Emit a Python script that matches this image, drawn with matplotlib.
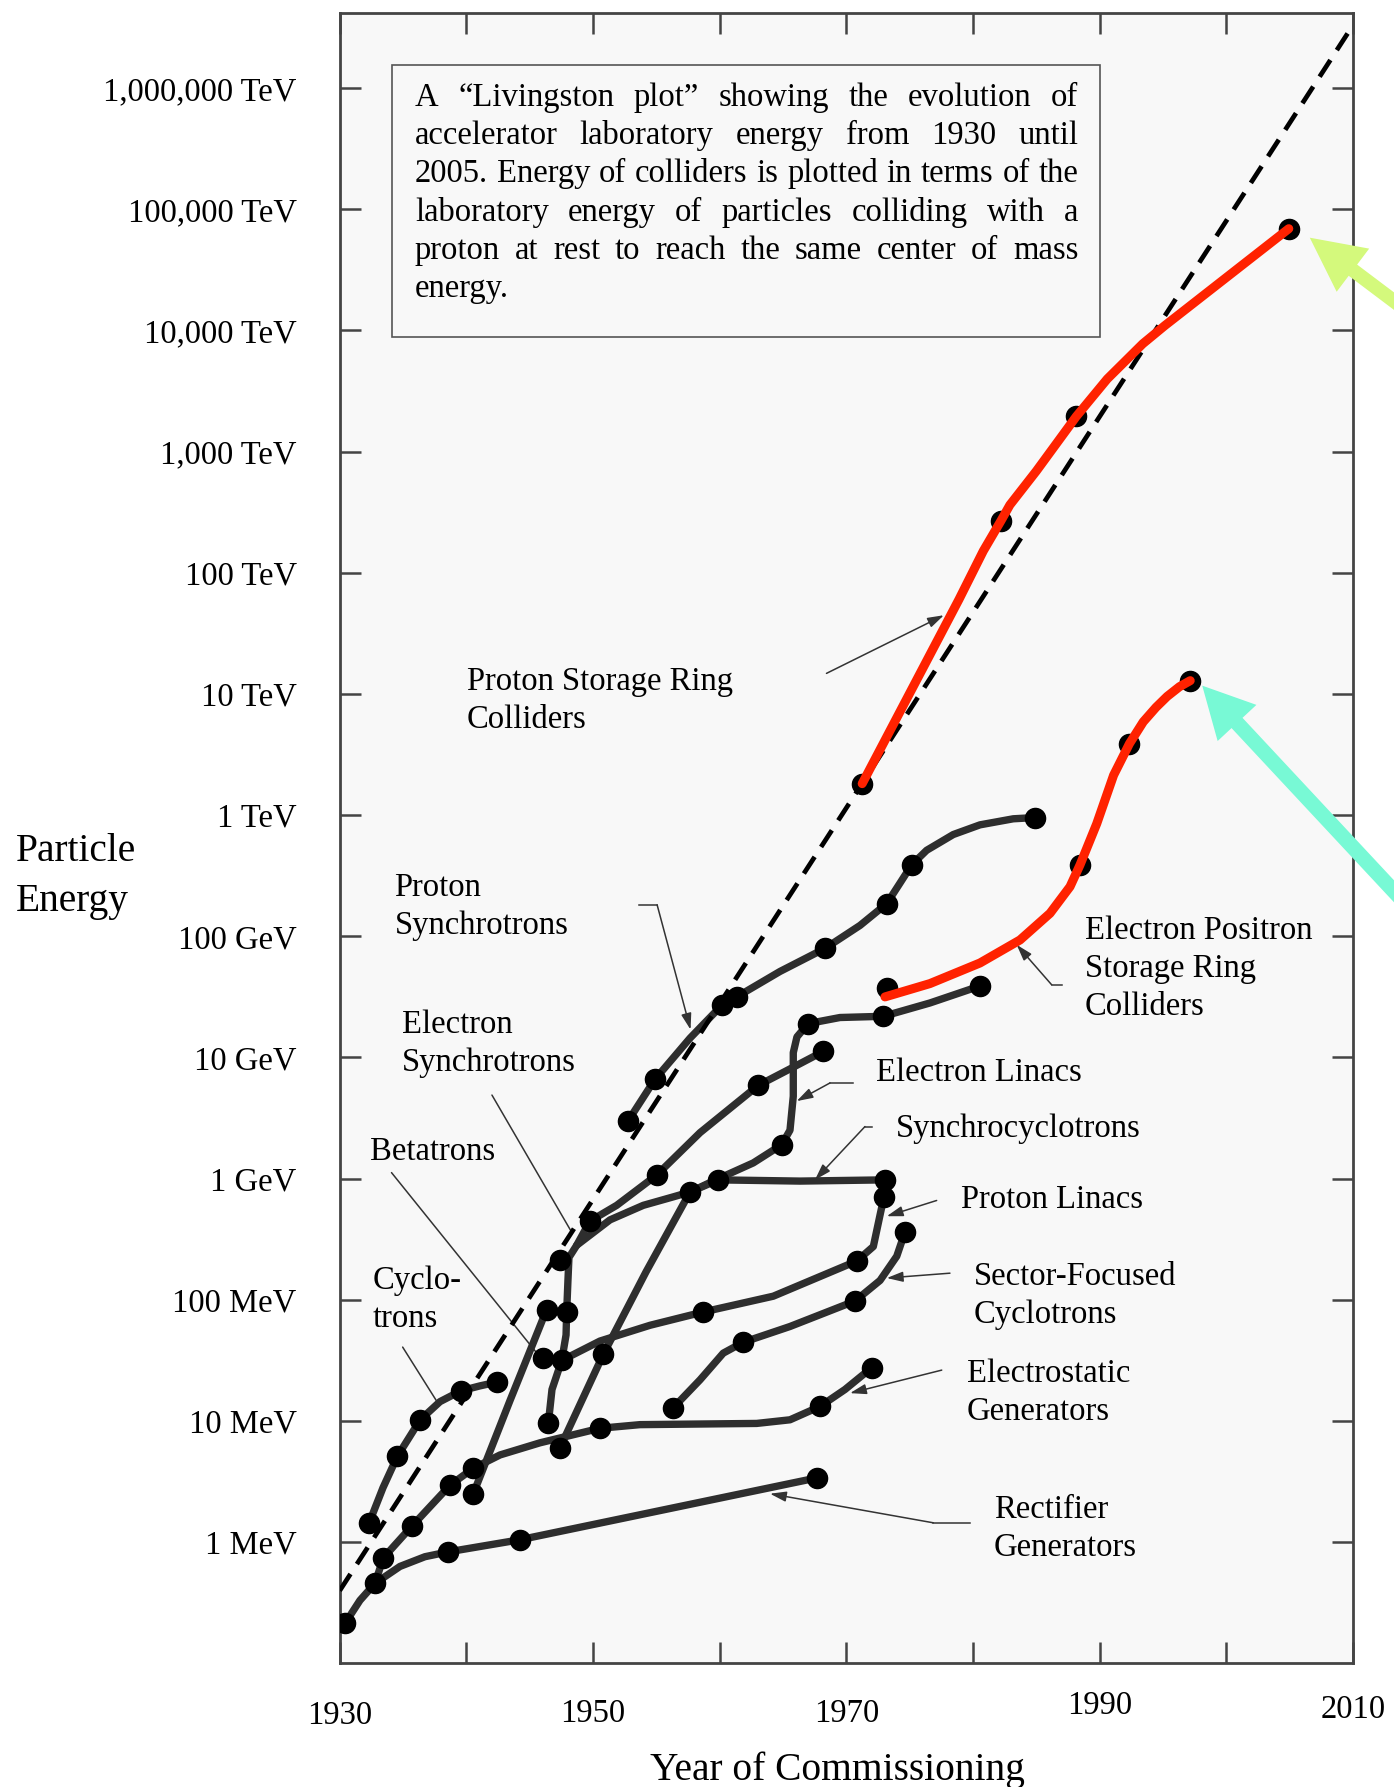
import numpy as np
import matplotlib
matplotlib.use("Agg")
import matplotlib.pyplot as plt
from matplotlib.patches import FancyArrow, Rectangle
from matplotlib.transforms import IdentityTransform

plt.rcParams['font.family'] = ['Liberation Serif', 'DejaVu Serif']

W, H = 1394, 1787

# each node: (year, log10 of energy in eV, dot drawn?)
rectifier = [(1930.42, 5.33, 1), (1931.60, 5.52, 0), (1932.79, 5.66, 1), (1934.76, 5.80, 0),
             (1936.73, 5.88, 0), (1938.57, 5.92, 1), (1944.23, 6.02, 1), (1967.66, 6.53, 1)]

electrostatic = [(1932.79, 5.66, 0), (1933.44, 5.87, 1), (1935.68, 6.13, 1), (1938.71, 6.47, 1),
                 (1940.55, 6.61, 1), (1942.66, 6.72, 0), (1945.81, 6.82, 0), (1948.18, 6.88, 0),
                 (1950.55, 6.94, 1), (1953.71, 6.97, 0), (1962.92, 6.98, 0), (1965.55, 7.01, 0),
                 (1967.92, 7.12, 1), (1969.89, 7.26, 0), (1972.00, 7.44, 1)]

cyclotrons = [(1932.33, 6.16, 1), (1933.42, 6.45, 0), (1934.56, 6.71, 1), (1936.36, 7.01, 1),
              (1937.92, 7.16, 0), (1939.59, 7.25, 1), (1941.08, 7.29, 0), (1942.38, 7.32, 1)]

betatrons = [(1940.55, 6.40, 1), (1943.45, 7.17, 0), (1946.34, 7.92, 1)]

e_synchrotrons = [(1946.47, 6.98, 1), (1946.76, 7.26, 0), (1947.53, 7.50, 1), (1947.87, 7.71, 0),
                  (1947.92, 7.90, 1), (1948.02, 8.16, 0), (1948.10, 8.35, 0), (1948.71, 8.45, 0),
                  (1949.76, 8.65, 1), (1951.87, 8.78, 0), (1955.03, 9.03, 1), (1958.45, 9.38, 0),
                  (1963.05, 9.77, 1), (1965.81, 9.92, 0), (1968.18, 10.05, 1)]

synchrocyclotrons = [(1948.71, 8.45, 0), (1951.34, 8.66, 0), (1953.97, 8.78, 0), (1956.34, 8.85, 0),
                     (1957.66, 8.89, 1), (1959.89, 8.99, 1), (1966.34, 8.98, 0), (1973.05, 8.99, 1)]

e_linacs = [(1947.39, 6.78, 1), (1950.81, 7.55, 1), (1954.18, 8.23, 0), (1957.66, 8.89, 0),
            (1959.89, 9.00, 0), (1962.65, 9.13, 0), (1964.90, 9.28, 1), (1965.55, 9.40, 0),
            (1965.81, 9.68, 0), (1965.81, 10.04, 0), (1966.10, 10.17, 0), (1966.99, 10.28, 1),
            (1969.50, 10.33, 0), (1972.92, 10.34, 1), (1976.60, 10.45, 0), (1980.55, 10.59, 1)]

p_linacs = [(1947.53, 7.50, 0), (1950.55, 7.66, 0), (1954.50, 7.79, 0), (1958.71, 7.90, 1),
            (1964.23, 8.03, 0), (1970.82, 8.32, 1), (1972.13, 8.44, 0), (1972.66, 8.70, 0),
            (1972.97, 8.85, 1)]

sector_cyclotrons = [(1956.34, 7.11, 1), (1958.45, 7.34, 0), (1960.28, 7.56, 0), (1961.86, 7.65, 1),
                     (1965.55, 7.78, 0), (1970.68, 7.99, 1), (1972.66, 8.16, 0), (1973.98, 8.36, 0),
                     (1974.63, 8.56, 1)]

p_synchrotrons = [(1952.79, 9.48, 1), (1954.89, 9.82, 1), (1957.66, 10.16, 0), (1960.16, 10.43, 1),
                  (1961.34, 10.50, 1), (1964.76, 10.71, 0), (1968.31, 10.90, 1), (1971.08, 11.09, 0),
                  (1973.19, 11.27, 1), (1974.24, 11.44, 0), (1975.16, 11.59, 1), (1976.34, 11.71, 0),
                  (1978.44, 11.84, 0), (1980.55, 11.92, 0), (1983.18, 11.97, 0), (1984.89, 11.98, 1)]

pp_colliders = [(1971.25, 12.26, 1), (1978.89, 13.78, 0), (1980.81, 14.18, 0), (1982.21, 14.43, 1),
                (1982.91, 14.56, 0), (1985.00, 14.84, 0), (1988.15, 15.29, 1), (1990.60, 15.60, 0),
                (1993.40, 15.89, 0), (1995.14, 16.04, 0), (2004.93, 16.84, 1)]

ee_colliders = [(1973.05, 10.50, 0), (1976.60, 10.61, 0), (1980.55, 10.78, 0), (1983.71, 10.97, 0),
                (1986.08, 11.19, 0), (1987.66, 11.41, 0), (1988.45, 11.59, 1), (1989.77, 11.93, 0),
                (1991.10, 12.33, 0), (1992.35, 12.59, 1), (1993.44, 12.77, 0), (1994.45, 12.89, 0),
                (1995.33, 12.98, 0), (1996.30, 13.06, 0), (1997.15, 13.11, 1)]

# dots sitting next to a curve rather than on it
loose_dots = [(1946.07, 7.52), (1947.39, 8.33), (1973.19, 10.57)]

# trend line
trend_yr = [1930, 2010]
trend_lg = [5.60, 18.52]

# label pointers (year, log10 E), last node is the tip; flag = arrowhead
pointers = [
    ([(1968.43, 13.17), (1977.70, 13.65)], 1),
    ([(1953.65, 11.26), (1955.06, 11.26), (1957.70, 10.23)], 1),
    ([(1942.02, 9.69), (1948.36, 8.55)], 0),
    ([(1934.09, 9.05), (1945.72, 7.54)], 0),
    ([(1934.97, 7.61), (1937.62, 7.17)], 0),
    ([(1987.00, 10.60), (1986.21, 10.60), (1983.45, 10.93)], 1),
    ([(1970.55, 9.79), (1968.71, 9.79), (1966.08, 9.64)], 1),
    ([(1972.00, 9.43), (1971.47, 9.43), (1967.52, 8.99)], 1),
    ([(1977.13, 8.82), (1973.19, 8.69)], 1),
    ([(1978.18, 8.22), (1973.19, 8.18)], 1),
    ([(1977.53, 7.42), (1970.29, 7.23)], 1),
    ([(1979.76, 6.16), (1976.86, 6.16), (1963.97, 6.40)], 1),
]

# label text, left year, log10 E of first line centre
labels = [
    ("Proton Storage Ring\nColliders", 1940.05, 13.10),
    ("Proton\nSynchrotrons", 1934.32, 11.40),
    ("Electron\nSynchrotrons", 1934.94, 10.27),
    ("Betatrons", 1932.42, 9.22),
    ("Cyclo-\ntrons", 1932.61, 8.16),
    ("Electron Positron\nStorage Ring\nColliders", 1988.84, 11.05),
    ("Electron Linacs", 1972.38, 9.87),
    ("Synchrocyclotrons", 1973.91, 9.41),
    ("Proton Linacs", 1979.04, 8.83),
    ("Sector-Focused\nCyclotrons", 1980.03, 8.19),
    ("Electrostatic\nGenerators", 1979.49, 7.39),
    ("Rectifier\nGenerators", 1981.65, 6.27),
]

x_ticks = list(range(1930, 2011, 10))
x_tick_text = ['1930', '', '1950', '', '1970', '', '1990', '', '2010']
x_tick_lift = [0, 0, 2, 0, 2, 0, 10, 0, 5]
y_tick_lg = list(range(6, 19))
y_tick_text = ['1 MeV', '10 MeV', '100 MeV', '1 GeV', '10 GeV', '100 GeV', '1 TeV', '10 TeV',
               '100 TeV', '1,000 TeV', '10,000 TeV', '100,000 TeV', '1,000,000 TeV']

note_lines = ["A \u201cLivingston plot\u201d showing the evolution of",
              "accelerator laboratory energy from 1930 until",
              "2005.  Energy of colliders is plotted in terms of the",
              "laboratory energy of particles colliding with a",
              "proton at rest to reach the same center of mass",
              "energy."]

FS = 23.5


def fx(px):
    return px / W


def fy(py):
    return 1 - py / H


fig = plt.figure(figsize=(W / 100, H / 100), dpi=100)
ax = fig.add_axes([fx(339.7), fy(1662.5), (1353 - 339.7) / W, (1662.5 - 13) / H])
ax.set_facecolor('#f8f8f8')
ax.set_yscale('log')
ax.set_xlim(1930, 2010)
ax.set_ylim(10 ** 5.007, 10 ** 18.62)

ax.set_xticks(x_ticks)
ax.set_xticklabels(x_tick_text)
ax.set_yticks([10.0 ** k for k in y_tick_lg])
ax.set_yticklabels(y_tick_text)
ax.yaxis.set_minor_locator(matplotlib.ticker.NullLocator())
ax.tick_params(direction='in', length=15, width=1.8, color='#444444', top=True, right=True,
               labelsize=FS)
ax.tick_params(axis='x', pad=27)
ax.tick_params(axis='y', pad=31)
for lab, lift in zip(ax.get_xticklabels(), x_tick_lift):
    lab.set_y(lift / (1662.5 - 13))
for s in ax.spines.values():
    s.set_linewidth(2)
    s.set_color('#444444')

ax.set_ylabel('Particle\nEnergy', rotation=0, fontsize=28.4, ha='left', va='center', linespacing=1.45)
ax.yaxis.set_label_coords((16 - 339.7) / 1013.3, (1662.5 - 876.5) / 1649.5)
ax.set_xlabel('Year of Commissioning', fontsize=28.4, va='baseline')
ax.xaxis.set_label_coords((837 - 339.7) / 1013.3, (1662.5 - 1780) / 1649.5)


def draw_curve(pts, color='#2e2e2e', lw=5.3, z=3, dot_z=4):
    yr = [p[0] for p in pts]
    en = [10 ** p[1] for p in pts]
    ax.plot(yr, en, color=color, lw=lw, solid_capstyle='round', solid_joinstyle='round', zorder=z)
    dots = [p for p in pts if p[2]]
    ax.plot([p[0] for p in dots], [10 ** p[1] for p in dots], 'o', ms=14.5, color='black',
            mec='black', zorder=dot_z)


for c in [rectifier, electrostatic, cyclotrons, betatrons, e_synchrotrons, synchrocyclotrons,
          e_linacs, p_linacs, sector_cyclotrons, p_synchrotrons]:
    draw_curve(c)
ax.plot([d[0] for d in loose_dots], [10 ** d[1] for d in loose_dots], 'o', ms=14.5,
        color='black', zorder=4)

for c in [pp_colliders, ee_colliders]:
    draw_curve(c, color='#ff2200', lw=6.5, z=6, dot_z=5)

ax.plot(trend_yr, [10 ** v for v in trend_lg], color='black', lw=3.4, dashes=(4.2, 2.5),
        zorder=4.5)

for path, head in pointers:
    yr = [p[0] for p in path]
    en = [10 ** p[1] for p in path]
    if len(path) > 2:
        ax.plot(yr[:-1], en[:-1], color='#333333', lw=1.1, zorder=2)
    style = '-|>,head_length=0.7,head_width=0.22' if head else '-'
    ax.annotate('', xy=(yr[-1], en[-1]), xytext=(yr[-2], en[-2]),
                arrowprops=dict(arrowstyle=style, color='#333333', lw=1.1,
                                shrinkA=0, shrinkB=0, mutation_scale=14), zorder=2)

for text, yr, lg in labels:
    for i, s in enumerate(text.split('\n')):
        ax.text(yr, 10 ** (lg - i * 0.316), s, fontsize=FS, ha='left', va='center', zorder=8)

# note box with justified lines
fig.add_artist(Rectangle((fx(392.1), fy(337.4)), (1099.9 - 392.1) / W, (337.4 - 65) / H,
                         transform=fig.transFigure, facecolor='#f8f8f8', edgecolor='#555555',
                         lw=1.2, zorder=2))
renderer = fig.canvas.get_renderer()
x_left, x_right = 414.9, 1078.3
for i, line in enumerate(note_lines):
    base = 106 + i * 38.2
    words = line.split()
    arts = [fig.text(fx(x_left), fy(base), w_, fontsize=FS, ha='left', va='baseline', zorder=3)
            for w_ in words]
    widths = [a.get_window_extent(renderer=renderer).width for a in arts]
    if i < len(note_lines) - 1 and len(words) > 1:
        gap = (x_right - x_left - sum(widths)) / (len(words) - 1)
    else:
        gap = 8
    x = x_left
    for a, w_ in zip(arts, widths):
        a.set_x(fx(x))
        x += w_ + gap

# pointing arrows at the newest colliders
lhc = ax.transData.transform((pp_colliders[-1][0], 10 ** pp_colliders[-1][1]))
lep = ax.transData.transform((ee_colliders[-1][0], 10 ** ee_colliders[-1][1]))
for base_pt, off, ang, wid, hw, hl, col in [
        (lhc, (21, -9), 37, 14, 54, 54, '#d4f97c'),
        (lep, (12, -5), 47, 15, 53, 51, '#78f9d5')]:
    tip = np.array(base_pt) + np.array(off)
    a = np.radians(ang)
    tail = tip + 300 * np.array([np.cos(a), -np.sin(a)])
    fig.add_artist(FancyArrow(tail[0], tail[1], tip[0] - tail[0], tip[1] - tail[1], width=wid,
                              head_width=hw, head_length=hl, length_includes_head=True,
                              color=col, lw=0, transform=IdentityTransform(), zorder=10))

fig.savefig('out.png', dpi=100, facecolor='white')
